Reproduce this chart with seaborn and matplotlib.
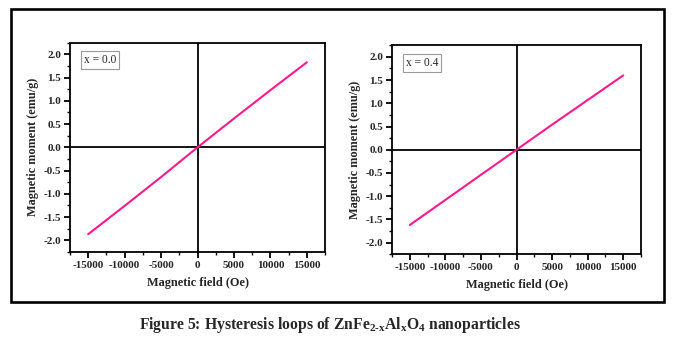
import matplotlib
matplotlib.use("Agg")
import matplotlib.pyplot as plt
from matplotlib.patches import Rectangle
from matplotlib.ticker import MultipleLocator
import seaborn as sns
import pandas as pd

# Magnetisation data (M vs H) for the two compositions
field_oe = [-15000, -10000, -5000, 0, 5000, 10000, 15000]
moment_x00 = [-1.87, -1.26, -0.64, 0.0, 0.62, 1.23, 1.83]
moment_x04 = [-1.62, -1.08, -0.54, 0.0, 0.54, 1.07, 1.60]
panel_labels = ["x = 0.0", "x = 0.4"]
x_ticks = [-15000, -10000, -5000, 0, 5000, 10000, 15000]
y_ticks = [-2.0, -1.5, -1.0, -0.5, 0.0, 0.5, 1.0, 1.5, 2.0]
caption = r"Figure 5: Hysteresis loops of ZnFe$_{\mathbf{2\text{-}x}}$Al$_{\mathbf{x}}$O$_{\mathbf{4}}$ nanoparticles"

sns.set_theme(style="white")
plt.rcParams["font.family"] = ["Liberation Serif", "DejaVu Serif"]
plt.rcParams["mathtext.fontset"] = "custom"
plt.rcParams["mathtext.rm"] = "Liberation Serif:bold"
plt.rcParams["mathtext.bf"] = "Liberation Serif:bold"
plt.rcParams["mathtext.it"] = "Liberation Serif:bold"

fig = plt.figure(figsize=(6.73, 3.45), dpi=100)
fig.patch.set_facecolor("white")

# outer frame around both panels
fig.patches.append(Rectangle((0.0165, 0.125), 0.970, 0.849, transform=fig.transFigure,
                             fill=False, edgecolor="black", linewidth=1.9))

positions = [[0.104, 0.270, 0.379, 0.606], [0.5825, 0.263, 0.370, 0.606]]
series = [moment_x00, moment_x04]
pink = "#ff1a8c"

for pos, moment, lab in zip(positions, series, panel_labels):
    ax = fig.add_axes(pos)
    df = pd.DataFrame({"H": field_oe, "M": moment})
    sns.lineplot(data=df, x="H", y="M", ax=ax, color=pink, linewidth=1.5, sort=False)
    ax.axhline(0, color="black", linewidth=1.3, zorder=1)
    ax.axvline(0, color="black", linewidth=1.3, zorder=1)
    ax.set_xlim(-17500, 17500)
    ax.set_ylim(-2.25, 2.25)
    ax.set_xticks(x_ticks)
    ax.set_yticks(y_ticks)
    ax.set_xticklabels([str(v) for v in x_ticks])
    ax.set_yticklabels([f"{v:.1f}" for v in y_ticks])
    ax.xaxis.set_minor_locator(MultipleLocator(2500))
    ax.yaxis.set_minor_locator(MultipleLocator(0.25))
    ax.tick_params(axis="both", which="major", direction="out", length=4, width=1.3,
                   labelsize=8.0, pad=2.5, bottom=True, left=True, color="black")
    ax.tick_params(axis="both", which="minor", direction="out", length=2.2, width=1.0,
                   bottom=True, left=True, color="black")
    for t in ax.get_xticklabels() + ax.get_yticklabels():
        t.set_fontweight("bold")
    for s in ax.spines.values():
        s.set_linewidth(1.3)
        s.set_color("black")
    ax.set_xlabel("Magnetic field (Oe)", fontsize=8.8, fontweight="bold", labelpad=5)
    ax.set_ylabel("Magnetic moment (emu/g)", fontsize=8.8, fontweight="bold", labelpad=3)
    ax.text(0.055, 0.945, lab, transform=ax.transAxes, fontsize=8.3, va="top", ha="left",
            bbox=dict(boxstyle="square,pad=0.25", facecolor="white", edgecolor="#999999", linewidth=0.8))

fig.text(0.491, 0.058, caption, ha="center", va="center", fontsize=11.3, fontweight="bold")

fig.savefig("out.png", dpi=100, facecolor="white")
